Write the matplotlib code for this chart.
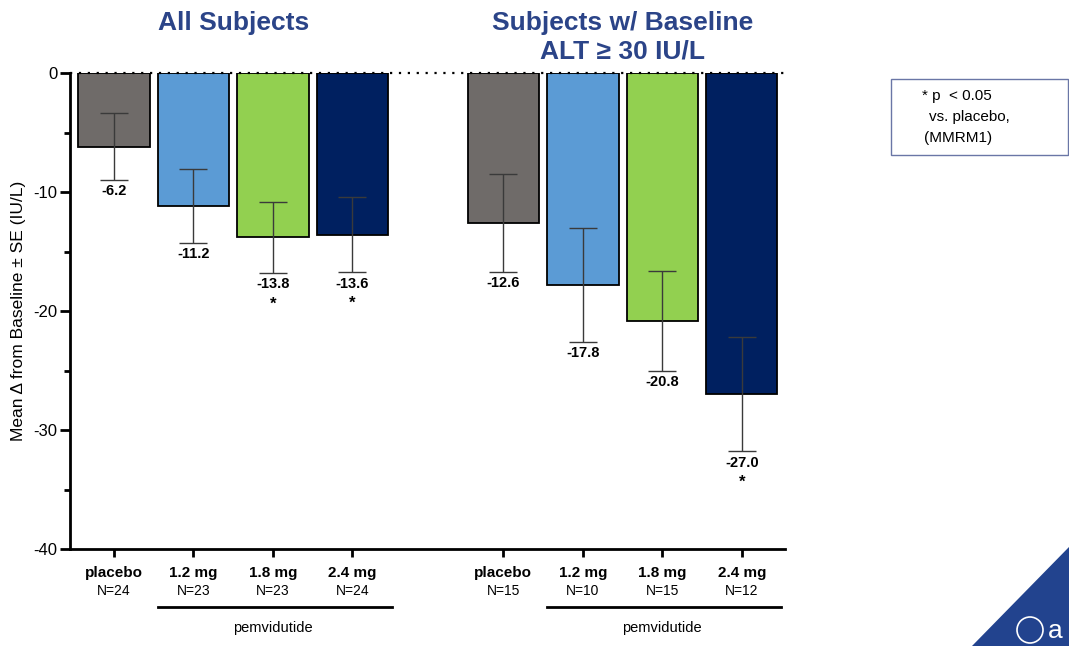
import numpy as np
import matplotlib
matplotlib.use('Agg')
import matplotlib.pyplot as plt
from matplotlib.patches import Polygon, Rectangle, Ellipse

plt.rcParams['font.family'] = ['Liberation Sans', 'DejaVu Sans']
plt.rcParams['axes.unicode_minus'] = False

# data
doses = ['placebo', '1.2 mg', '1.8 mg', '2.4 mg']
n_all = ['N=24', 'N=23', 'N=23', 'N=24']
n_alt = ['N=15', 'N=10', 'N=15', 'N=12']
mean_all = [-6.2, -11.2, -13.8, -13.6]
se_all = [2.8, 3.1, 3.0, 3.15]
mean_alt = [-12.6, -17.8, -20.8, -27.0]
se_alt = [4.1, 4.8, 4.2, 4.8]
sig_all = [False, False, True, True]
sig_alt = [False, False, False, True]
colors = ['#6f6b69', '#5b9bd5', '#92d050', '#002060']

title_col = '#2b4488'

fig = plt.figure(figsize=(10.69, 6.46), dpi=100)
ax = fig.add_axes([0.0655, 0.150, 0.6685, 0.737])

x1 = np.arange(4)
x2 = np.arange(4) + 4.9
xs = np.concatenate([x1, x2])
means = mean_all + mean_alt
ses = se_all + se_alt
sigs = sig_all + sig_alt

ax.bar(xs, means, width=0.9, color=colors * 2, edgecolor='black', linewidth=1.3, zorder=2)
ax.errorbar(xs, means, yerr=ses, fmt='none', ecolor='#3a3a3a', elinewidth=1.0,
            capsize=10, capthick=1.0, zorder=3)

for x, m, s, sg in zip(xs, means, ses, sigs):
    ax.annotate(f'{m:.1f}', xy=(x, m - s), xytext=(0, -3), textcoords='offset points',
                ha='center', va='top', fontsize=10.5, fontweight='bold')
    if sg:
        ax.annotate('*', xy=(x, m - s), xytext=(0, -17), textcoords='offset points',
                    ha='center', va='top', fontsize=12, fontweight='bold')

ax.axhline(0, color='black', linestyle=(0, (1, 3)), linewidth=1.6, clip_on=False, zorder=4)

ax.set_ylim(-40, 0)
ax.set_xlim(-0.553, 8.44)
ax.set_yticks([0, -10, -20, -30, -40])
ax.set_yticks([-5, -15, -25, -35], minor=True)
ax.tick_params(axis='y', which='major', length=7, width=2, labelsize=12, pad=2)
ax.tick_params(axis='y', which='minor', length=4, width=2)
ax.set_xticks(xs)
ax.set_xticklabels(doses * 2, fontweight='bold', fontsize=11)
ax.tick_params(axis='x', length=6, width=2, pad=6)

for sp in ['top', 'right']:
    ax.spines[sp].set_visible(False)
ax.spines['left'].set_linewidth(2)
ax.spines['bottom'].set_linewidth(2)

ax.set_ylabel('Mean Δ from Baseline ± SE (IU/L)', fontsize=12.5, labelpad=5)

# N labels and pemvidutide brackets
trans = ax.get_xaxis_transform()
for x, n in zip(xs, n_all + n_alt):
    ax.text(x, -0.087, n, transform=trans, ha='center', va='center', fontsize=10)
for grp in (x1, x2):
    ax.plot([grp[1] - 0.45, grp[3] + 0.5], [-0.121, -0.121], transform=trans,
            color='black', linewidth=2, clip_on=False)
    ax.text(grp[2], -0.165, 'pemvidutide', transform=trans, ha='center', va='center',
            fontsize=10.5)

# titles
ax.text(1.5, 1.105, 'All Subjects', transform=trans, ha='center', va='center',
        fontsize=19, fontweight='bold', color=title_col)
ax.text(x2[0] + 1.5, 1.105, 'Subjects w/ Baseline', transform=trans, ha='center',
        va='center', fontsize=19, fontweight='bold', color=title_col)
ax.text(x2[0] + 1.5, 1.045, 'ALT ≥ 30 IU/L', transform=trans, ha='center',
        va='center', fontsize=19, fontweight='bold', color=title_col)

# footnote box
fig.patches.append(Rectangle((891 / 1069, 1 - 155 / 646), 177 / 1069, 76 / 646,
                             transform=fig.transFigure, facecolor='white',
                             edgecolor='#6a76a6', linewidth=1.0))
fig.text(922 / 1069, 1 - 96 / 646, '* p  < 0.05', fontsize=11, va='center', ha='left')
fig.text(929 / 1069, 1 - 117 / 646, 'vs. placebo,', fontsize=11, va='center', ha='left')
fig.text(924 / 1069, 1 - 138 / 646, '(MMRM1)', fontsize=11, va='center', ha='left')

# corner logo
fig.patches.append(Polygon([(972 / 1069, 0), (1.0, 1 - 547 / 646), (1.0, 0)],
                           closed=True, transform=fig.transFigure,
                           facecolor='#22438e', edgecolor='none'))
fig.patches.append(Ellipse((1030 / 1069, 1 - 630 / 646), 26 / 1069, 26 / 646,
                           transform=fig.transFigure, facecolor='none',
                           edgecolor='white', linewidth=1.2))
fig.text(1048 / 1069, 1 - 631 / 646, 'a', fontsize=19, color='white', va='center', ha='left')

fig.savefig('out.png', dpi=100)
